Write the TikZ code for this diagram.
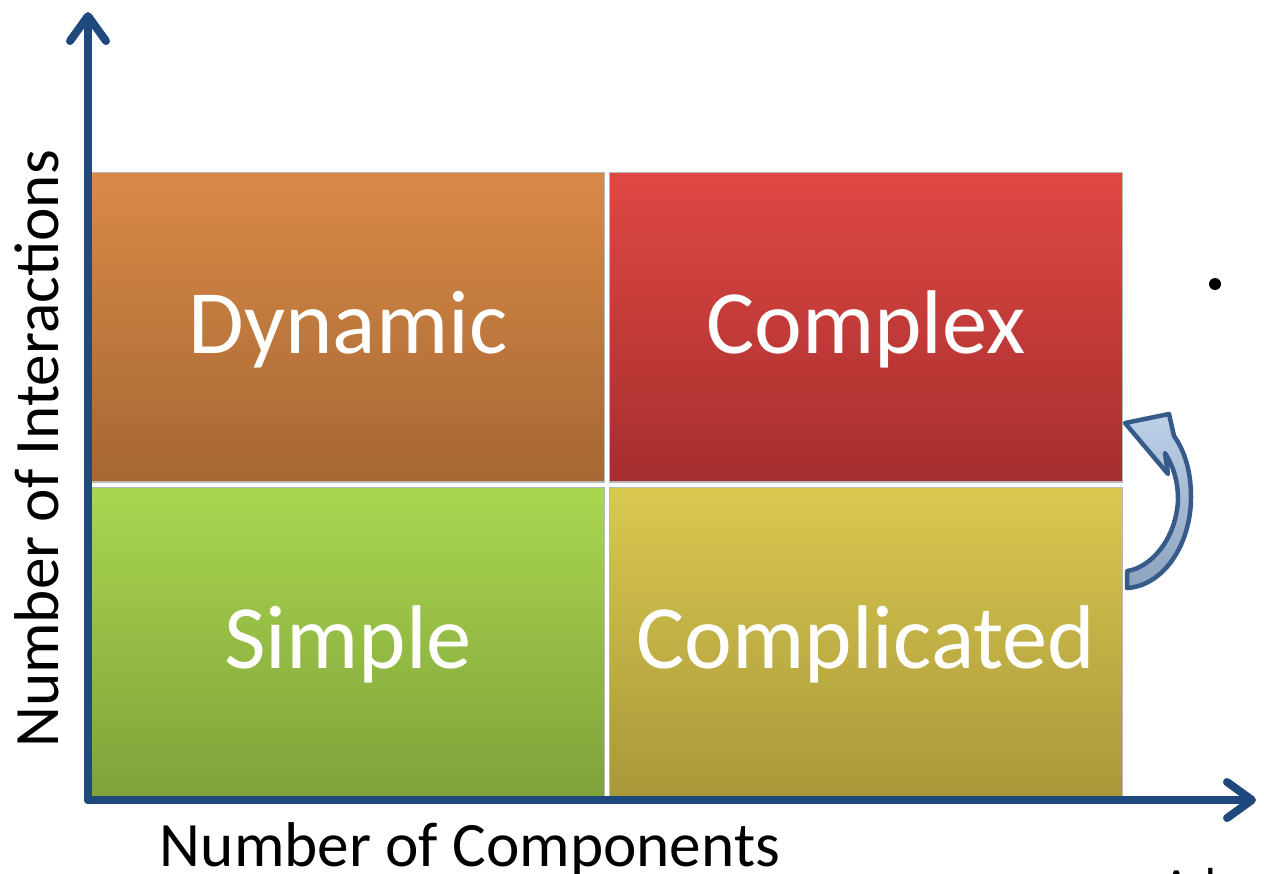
\documentclass[tikz,border=0pt]{standalone}
\usepackage{fontspec}
\setmainfont{Carlito}
\usetikzlibrary{positioning,arrows.meta}
\definecolor{axisblue}{HTML}{1F497D}
\definecolor{arrowline}{HTML}{365B8A}
\begin{document}
\begin{tikzpicture}[x=0.02cm,y=-0.02cm,
    quad/.style={rectangle,draw=gray!55,line width=0.6pt,minimum width=10.26cm,
      minimum height=6.2cm,inner sep=0pt,text=white,text height=34pt,text depth=4pt,
      font=\fontsize{51.5}{60}\selectfont},
    axis/.style={draw=axisblue,line width=0.16cm,line cap=round,
      -{Straight Barb[length=0.5cm,width=0.72cm,round]}},
    axlabel/.style={font=\fontsize{36}{43}\selectfont}]
  \useasboundingbox (0,0) rectangle (1264,873);
  \clip (0,0) rectangle (1264,873);
  % the four quadrants
  \node[quad,top color={rgb,255:red,217;green,138;blue,72},bottom color={rgb,255:red,166;green,103;blue,50}]
    (dyn) at (348,327) {Dynamic};
  \node[quad,right=0.08cm of dyn,top color={rgb,255:red,223;green,72;blue,67},bottom color={rgb,255:red,165;green,46;blue,46}]
    (cpx) {Complex};
  \node[quad,below=0.08cm of dyn,top color={rgb,255:red,170;green,214;blue,80},bottom color={rgb,255:red,127;green,162;blue,58}]
    (smp) {Simple};
  \node[quad,right=0.08cm of smp,top color={rgb,255:red,217;green,200;blue,80},bottom color={rgb,255:red,168;green,152;blue,58}]
    (cmd) {Complicated};
  % axes
  \coordinate (o) at (88,800);
  \coordinate (ytip) at (88,12);
  \coordinate (xtip) at (1256,800);
  \draw[axis] (o) -- (ytip);
  \draw[axis] (o) -- (xtip);
  \node[axlabel,rotate=90] (ylab) at (37,449) {Number of Interactions};
  \node[axlabel,anchor=base] (xlab) at (470,866) {Number of Components};
  % curved arrow from Complicated up to Complex
  \draw[arrowline,line width=0.09cm,line join=round,top color={rgb,255:red,188;green,208;blue,232},
      bottom color={rgb,255:red,142;green,163;blue,189}]
    (1127,588) .. controls (1163,586) and (1191,545) .. (1191,497)
    .. controls (1191,470) and (1184,450) .. (1174,436)
    -- (1169,414) -- (1125,423) -- (1168,474) -- (1165,453)
    .. controls (1173,466) and (1178,480) .. (1178,500)
    .. controls (1176,540) and (1150,568) .. (1127,571) -- cycle;
  % cut-off bullet text on the right
  \fill (1215,284) circle (6);
  \node[font=\fontsize{28}{34}\selectfont,anchor=base west,inner sep=0pt] (ad) at (1162,902) {Ad};
\end{tikzpicture}
\end{document}
